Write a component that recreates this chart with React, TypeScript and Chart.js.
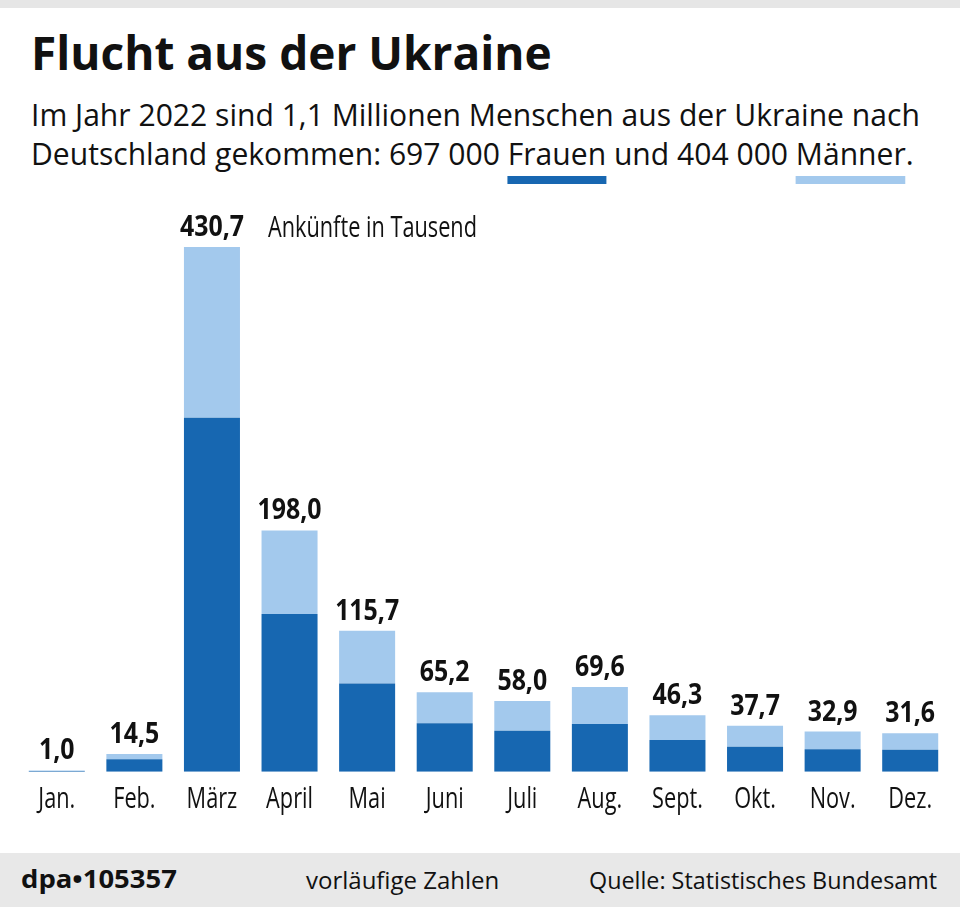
import React, { useEffect, useLayoutEffect, useRef, useState } from "react";
import { Chart, registerables } from "chart.js";

Chart.register(...registerables);

// ---- data ----
const months = ["Jan.", "Feb.", "März", "April", "Mai", "Juni", "Juli", "Aug.", "Sept.", "Okt.", "Nov.", "Dez."];
const totals = [1.0, 14.5, 430.7, 198.0, 115.7, 65.2, 58.0, 69.6, 46.3, 37.7, 32.9, 31.6];
const totalLabels = ["1,0", "14,5", "430,7", "198,0", "115,7", "65,2", "58,0", "69,6", "46,3", "37,7", "32,9", "31,6"];
const frauen = [0.6, 10.2, 290.5, 129.5, 72.5, 39.7, 33.7, 39.2, 26.0, 20.5, 18.4, 18.1];
const maenner = [0.4, 4.3, 140.2, 68.5, 43.2, 25.5, 24.3, 30.4, 20.3, 17.2, 14.5, 13.5];
const unitNote = "Ankünfte in Tausend";

const DARK = "#1767b1";
const LIGHT = "#a3c9ed";
const INK = "#111111";
const FONT = "'Open Sans', 'Noto Sans', sans-serif";

type FitProps = {
  left: number;
  baseline: number;
  size: number;
  weight?: number;
  width: number;
  children: React.ReactNode;
};

function FitText({ left, baseline, size, weight = 400, width, children }: FitProps) {
  const ref = useRef<HTMLDivElement>(null);
  const [sx, setSx] = useState(1);
  useLayoutEffect(() => {
    const measure = () => {
      const el = ref.current;
      if (!el) return;
      const w = el.offsetWidth;
      if (w > 0) setSx(width / w);
    };
    measure();
    if ((document as any).fonts && (document as any).fonts.ready) {
      (document as any).fonts.ready.then(measure);
    }
  }, [width]);
  return (
    <div
      ref={ref}
      style={{
        position: "absolute",
        left,
        top: baseline - 0.888 * size,
        fontFamily: FONT,
        fontSize: size,
        lineHeight: `${size}px`,
        fontWeight: weight,
        whiteSpace: "nowrap",
        color: INK,
        transform: `scaleX(${sx})`,
        transformOrigin: "0 0",
      }}
    >
      {children}
    </div>
  );
}

const labelPlugin = {
  id: "valueAndMonthLabels",
  afterDatasetsDraw(chart: any) {
    const { ctx } = chart;
    const xs = chart.scales.x;
    const ys = chart.scales.y;
    ctx.save();
    ctx.fillStyle = INK;
    ctx.textBaseline = "alphabetic";

    // totals above bars (bold, condensed)
    ctx.font = `700 29px ${FONT}`;
    const bsx = 64 / ctx.measureText("430,7").width;
    ctx.textAlign = "center";
    totals.forEach((t, i) => {
      const px = xs.getPixelForValue(i);
      const py = ys.getPixelForValue(t) - 11;
      ctx.save();
      ctx.translate(px, py);
      ctx.scale(bsx, 1);
      ctx.fillText(totalLabels[i], 0, 0);
      ctx.restore();
    });

    // month labels (regular, condensed)
    ctx.font = `400 30px ${FONT}`;
    const rsx = 209 / ctx.measureText(unitNote).width;
    const base = ys.getPixelForValue(0);
    months.forEach((m, i) => {
      const px = xs.getPixelForValue(i);
      ctx.save();
      ctx.translate(px, base + 36.6);
      ctx.scale(rsx, 1);
      ctx.fillText(m, 0, 0);
      ctx.restore();
    });

    // unit note next to the largest bar
    ctx.textAlign = "left";
    ctx.save();
    ctx.translate(xs.getPixelForValue(2) + 56, ys.getPixelForValue(totals[2]) - 10.5);
    ctx.scale(rsx, 1);
    ctx.fillText(unitNote, 0, 0);
    ctx.restore();

    ctx.restore();
  },
};

function BarChart() {
  const ref = useRef<HTMLCanvasElement>(null);
  useEffect(() => {
    if (!ref.current) return;
    const chart = new Chart(ref.current, {
      type: "bar",
      data: {
        labels: months,
        datasets: [
          {
            label: "Frauen",
            data: frauen,
            backgroundColor: DARK,
            borderWidth: 0,
            barPercentage: 0.722,
            categoryPercentage: 1,
            stack: "s",
          },
          {
            label: "Männer",
            data: maenner,
            backgroundColor: LIGHT,
            borderWidth: 0,
            barPercentage: 0.722,
            categoryPercentage: 1,
            stack: "s",
          },
        ],
      },
      options: {
        responsive: false,
        maintainAspectRatio: false,
        animation: false,
        layout: { padding: { left: 18, right: 11, top: 33.5, bottom: 58.3 } },
        scales: {
          x: { stacked: true, display: false },
          y: { stacked: true, display: false, min: 0, max: 450 },
        },
        plugins: {
          legend: { display: false },
          tooltip: { enabled: false },
        },
      },
      plugins: [labelPlugin],
    } as any);
    return () => chart.destroy();
  }, []);
  return (
    <canvas
      ref={ref}
      width={960}
      height={640}
      style={{ position: "absolute", left: 0, top: 190, width: 960, height: 640 }}
    />
  );
}

export default function App() {
  return (
    <div
      style={{
        position: "absolute",
        left: 0,
        top: 0,
        width: 960,
        height: 907,
        background: "#ffffff",
        overflow: "hidden",
      }}
    >
      <div style={{ position: "absolute", left: 0, top: 0, width: 960, height: 8, background: "#e6e6e6" }} />

      <FitText left={31} baseline={70} size={46} weight={700} width={521}>
        Flucht aus der Ukraine
      </FitText>
      <FitText left={31} baseline={126.5} size={31} width={889}>
        Im Jahr 2022 sind 1,1 Millionen Menschen aus der Ukraine nach
      </FitText>
      <FitText left={31} baseline={166} size={31} width={883}>
        Deutschland gekommen: 697 000{" "}
        <span style={{ position: "relative", display: "inline-block" }}>
          Frauen
          <span
            style={{
              position: "absolute",
              left: 0,
              right: 0,
              top: 0.888 * 31 + 10,
              height: 8,
              background: DARK,
            }}
          />
        </span>{" "}
        und 404 000{" "}
        <span style={{ position: "relative", display: "inline-block" }}>
          Männer
          <span
            style={{
              position: "absolute",
              left: 0,
              right: 0,
              top: 0.888 * 31 + 10,
              height: 8,
              background: LIGHT,
            }}
          />
        </span>
        .
      </FitText>

      <BarChart />

      <div style={{ position: "absolute", left: 0, top: 853, width: 960, height: 54, background: "#e8e8e8" }} />
      <FitText left={21} baseline={888.5} size={25} weight={700} width={156}>
        dpa•105357
      </FitText>
      <FitText left={306} baseline={889} size={24} width={193}>
        vorläufige Zahlen
      </FitText>
      <FitText left={589} baseline={889} size={24} width={348}>
        Quelle: Statistisches Bundesamt
      </FitText>
    </div>
  );
}
